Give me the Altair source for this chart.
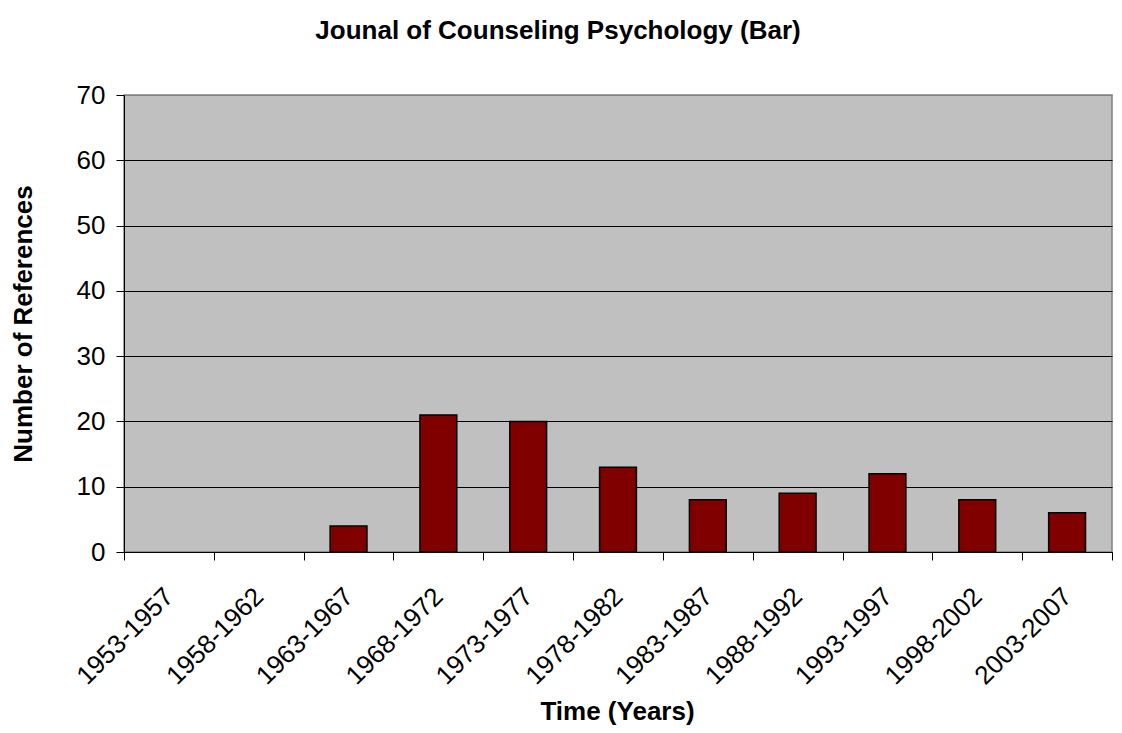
import altair as alt
import pandas as pd

periods = ["1953-1957", "1958-1962", "1963-1967", "1968-1972", "1973-1977",
           "1978-1982", "1983-1987", "1988-1992", "1993-1997", "1998-2002",
           "2003-2007"]
references = [0, 0, 4, 21, 20, 13, 8, 9, 12, 8, 6]
y_ticks = [0, 10, 20, 30, 40, 50, 60, 70]

df = pd.DataFrame({"period": periods, "refs": references})

FONT = "Liberation Sans"

chart = (
    alt.Chart(df)
    .transform_filter("datum.refs > 0")
    .mark_bar(color="#800000", stroke="black", strokeWidth=1.5,
              width=alt.RelativeBandSize(0.41))
    .encode(
        x=alt.X("period:N", sort=periods,
                scale=alt.Scale(domain=periods, paddingInner=0, paddingOuter=0),
                axis=alt.Axis(
                    title="Time (Years)",
                    labelAngle=315, labelAlign="right", labelBaseline="middle",
                    labelPadding=32, labelFontSize=26, labelFont=FONT,
                    labelColor="black", tickBand="extent", tickSize=8,
                    tickColor="black", domainColor="black",
                    titleFont=FONT, titleFontSize=26, titleFontWeight="bold",
                    titleColor="black", titleX=493, titleY=167,
                    titleBaseline="alphabetic", titleAlign="center",
                )),
        y=alt.Y("refs:Q",
                scale=alt.Scale(domain=[0, 70], nice=False),
                axis=alt.Axis(
                    title="Number of References", values=y_ticks,
                    labelFontSize=26, labelFont=FONT, labelColor="black",
                    labelPadding=11, tickSize=8, tickColor="black",
                    domainColor="black", grid=True,
                    gridColor={"condition": {"test": "datum.value == 70", "value": "#808080"},
                               "value": "black"},
                    titleFont=FONT, titleFontSize=26, titleFontWeight="bold",
                    titleColor="black", titleAngle=270, titleX=-93, titleY=228.5,
                    titleBaseline="alphabetic", titleAlign="center",
                )),
    )
    .properties(
        width=988, height=457,
        autosize=alt.AutoSizeParams(type="none"),
        padding={"left": 116, "top": 87, "right": 2, "bottom": 173},
        background="white",
        title=alt.TitleParams(
            "Jounal of Counseling Psychology (Bar)",
            font=FONT, fontSize=26, fontWeight="bold", color="black",
            anchor="middle", frame="group", dx=-60, offset=17,
            baseline="alphabetic",
        ),
    )
    .configure_view(fill="#C0C0C0", stroke="#808080", strokeWidth=1.5)
)

chart.save("out.html", embed_options={"renderer": "svg", "actions": False})
